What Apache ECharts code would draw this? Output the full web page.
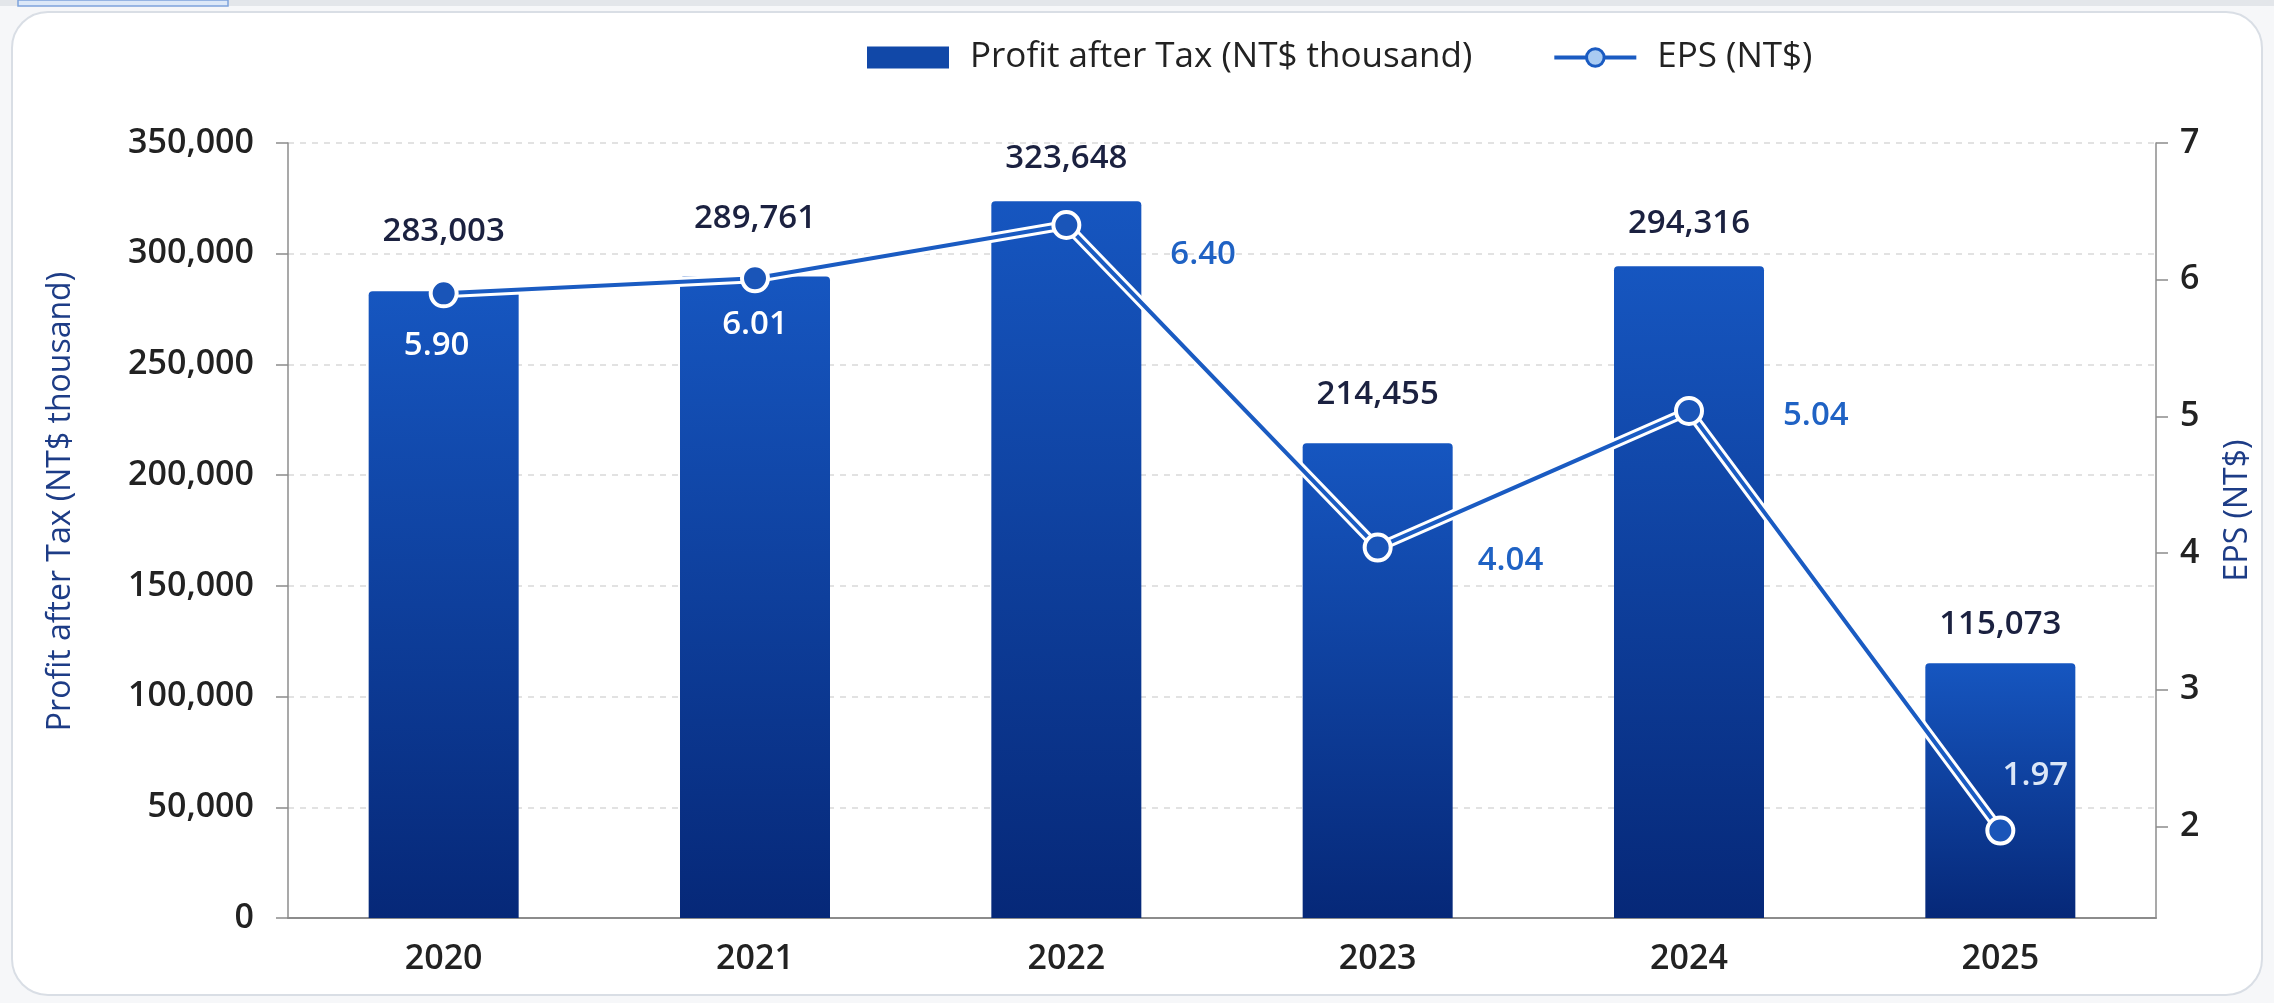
<!DOCTYPE html>
<html>
<head>
<meta charset="utf-8">
<script src="https://cdn.jsdelivr.net/npm/echarts@6/dist/echarts.min.js"></script>
<style>
  html, body { margin: 0; padding: 0; background: #f6f7f9; }
  #chart { width: 2274px; height: 1003px; }
</style>
</head>
<body>
<div id="chart"></div>
<script>
// Yearly profit after tax (NT$ thousand) and EPS (NT$)
const years = ['2020', '2021', '2022', '2023', '2024', '2025'];
const profitAfterTax = [283003, 289761, 323648, 214455, 294316, 115073];
const eps = [5.90, 6.01, 6.40, 4.04, 5.04, 1.97];
const epsTicks = [2, 3, 4, 5, 6, 7];

const FONT = '"Open Sans", Roboto, "Noto Sans", sans-serif';
const fmt = v => Number(v).toLocaleString('en-US');

// label placement for each bar / point
const barLabelLift = [43, 41, 26, 32, 26, 22];
const epsLabelLayout = [
  { position: 'bottom', offset: [-7, 16], color: '#ffffff' },
  { position: 'bottom', offset: [0, 10], color: '#ffffff' },
  { position: 'right', offset: [84, 30], color: '#1f62c4' },
  { position: 'right', offset: [80, 13], color: '#1f62c4' },
  { position: 'right', offset: [74, 5], color: '#1f62c4' },
  { position: 'top', offset: [35, -18], color: '#dce7f7' }
];

const barGradient = new echarts.graphic.LinearGradient(0, 0, 0, 1, [
  { offset: 0, color: '#1656c0' },
  { offset: 1, color: '#062878' }
]);

const barData = profitAfterTax.map((v, i) => ({
  value: v,
  label: { distance: barLabelLift[i] }
}));

const epsData = eps.map((v, i) => ({
  value: v,
  label: epsLabelLayout[i]
}));

const chart = echarts.init(document.getElementById('chart'), null, { renderer: 'canvas' });

chart.setOption({
  animation: false,
  textStyle: { fontFamily: FONT },
  graphic: [
    { type: 'rect', z: -10, silent: true,
      shape: { x: 0, y: 0, width: 2274, height: 6 },
      style: { fill: '#e3e6ea' } },
    { type: 'rect', z: -9, silent: true,
      shape: { x: 18, y: 0, width: 210, height: 6 },
      style: { fill: '#dce8f8', stroke: '#7ea3dc', lineWidth: 1.5 } },
    { type: 'rect', z: -10, silent: true,
      shape: { x: 12, y: 12, width: 2250, height: 983, r: 36 },
      style: { fill: '#ffffff', stroke: '#d9dee5', lineWidth: 2 } }
  ],
  legend: {
    top: 40,
    left: 867,
    padding: 0,
    itemWidth: 82,
    itemHeight: 22,
    itemGap: 80,
    textStyle: { fontSize: 35, color: '#222', fontFamily: FONT, padding: [0, 0, 0, 16] },
    data: [
      { name: 'Profit after Tax (NT$ thousand)', icon: 'rect',
        itemStyle: { color: '#1148a8' } },
      { name: 'EPS (NT$)',
        itemStyle: { color: '#a9cbf2', borderColor: '#1a5bc2', borderWidth: 3 },
        lineStyle: { color: '#1a5bc2', width: 4 } }
    ]
  },
  grid: { left: 288, right: 118, top: 143, bottom: 85 },
  xAxis: {
    type: 'category',
    data: years,
    axisLine: { lineStyle: { color: '#8c8c8c', width: 2 } },
    axisTick: { show: false },
    axisLabel: { fontSize: 34, fontWeight: 600, color: '#222', margin: 24, fontFamily: FONT }
  },
  yAxis: [
    {
      type: 'value',
      min: 0,
      max: 350000,
      interval: 50000,
      name: 'Profit after Tax (NT$ thousand)',
      nameLocation: 'middle',
      nameRotate: 90,
      nameGap: 211,
      nameTextStyle: { fontSize: 32, color: '#1d3c86', fontFamily: FONT, padding: [0, 0, 0, 58] },
      axisLine: { show: true, lineStyle: { color: '#8c8c8c', width: 1.5 } },
      axisTick: { show: true, length: 12, lineStyle: { color: '#8c8c8c', width: 1.5 } },
      axisLabel: { fontSize: 34, fontWeight: 600, color: '#222', margin: 34, formatter: fmt, fontFamily: FONT },
      splitLine: { show: true, lineStyle: { color: '#d9d9d9', width: 1.5, type: [6, 6] } }
    },
    {
      type: 'value',
      position: 'right',
      min: 1.33,
      max: 7,
      name: 'EPS (NT$)',
      nameLocation: 'middle',
      nameRotate: 90,
      nameGap: 66,
      nameTextStyle: { fontSize: 32, color: '#1d3c86', fontFamily: FONT, padding: [0, 0, 0, 40] },
      axisLine: { show: true, lineStyle: { color: '#8c8c8c', width: 1.5 } },
      axisTick: { show: true, length: 12, customValues: epsTicks, lineStyle: { color: '#8c8c8c', width: 1.5 } },
      axisLabel: { fontSize: 34, fontWeight: 600, color: '#222', margin: 24, customValues: epsTicks, fontFamily: FONT },
      splitLine: { show: false }
    }
  ],
  series: [
    {
      name: 'Profit after Tax (NT$ thousand)',
      type: 'bar',
      yAxisIndex: 0,
      barWidth: 150,
      data: barData,
      itemStyle: { color: barGradient, borderRadius: [4, 4, 0, 0] },
      label: {
        show: true,
        position: 'top',
        fontSize: 33,
        fontWeight: 600,
        color: '#1b2140',
        fontFamily: FONT,
        formatter: p => fmt(p.value)
      },
      z: 2
    },
    {
      // white halo under the EPS line
      name: 'EPS halo',
      type: 'line',
      yAxisIndex: 1,
      data: eps,
      symbol: 'none',
      silent: true,
      lineStyle: { color: '#ffffff', width: 10 },
      z: 3
    },
    {
      name: 'EPS (NT$)',
      type: 'line',
      yAxisIndex: 1,
      data: epsData,
      symbol: 'circle',
      symbolSize: 26,
      lineStyle: { color: '#1a5bc2', width: 4 },
      itemStyle: { color: '#1a55b8', borderColor: '#ffffff', borderWidth: 4 },
      label: {
        show: true,
        fontSize: 33,
        fontWeight: 600,
        fontFamily: FONT,
        formatter: p => Number(p.value).toFixed(2)
      },
      z: 4
    }
  ]
});
</script>
</body>
</html>
